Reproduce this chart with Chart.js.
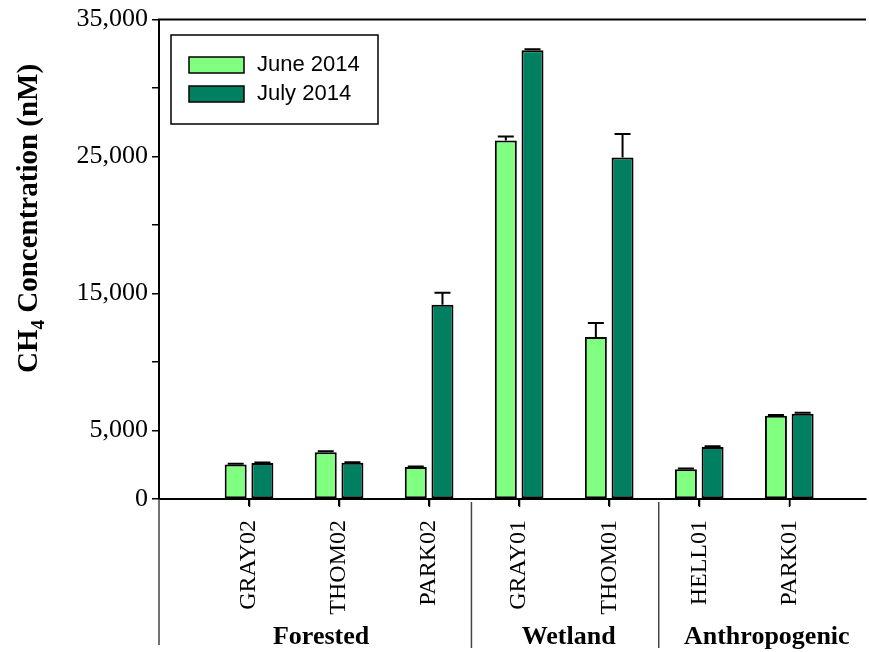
<!DOCTYPE html>
<html>
<head>
<meta charset="utf-8">
<script src="https://cdn.jsdelivr.net/npm/chart.js@4.4.1/dist/chart.umd.min.js"></script>
<style>
  html, body { margin: 0; padding: 0; background: #ffffff; }
  #wrap { width: 869px; height: 652px; }
</style>
</head>
<body>
<div id="wrap"><canvas id="c" width="869" height="652"></canvas></div>
<script>
// Sampling sites, in plotting order
const categories = ['GRAY02', 'THOM02', 'PARK02', 'GRAY01', 'THOM01', 'HELL01', 'PARK01'];

// CH4 concentration (nM)
const june2014 = [2520, 3420, 2330, 26170, 11830, 2180, 6080];
const july2014 = [2620, 2640, 14180, 32760, 24930, 3800, 6230];

// Standard errors (nM)
const june2014Err = [50, 60, 50, 290, 1020, 50, 60];
const july2014Err = [50, 50, 870, 70, 1720, 60, 70];

// Site groups
const groupNames = ['Forested', 'Wetland', 'Anthropogenic'];
const groupDividers = [3.47, 5.55];      // x-axis positions of the dividers
const groupLabelAt = [1.8, 4.55, 6.75];  // x-axis positions of the group names

// Labelled y ticks
const yTickLabels = [0, 5000, 15000, 25000, 35000];

const JUNE_COLOR = '#80ff80';
const JULY_COLOR = '#008060';

const toPoints = arr => arr.map((v, i) => ({ x: i + 1, y: v }));

const errorBars = {
  id: 'errorBars',
  afterDatasetsDraw(chart) {
    const ctx = chart.ctx;
    const y = chart.scales.y;
    ctx.save();
    ctx.strokeStyle = '#000';
    ctx.lineWidth = 2;
    chart.data.datasets.forEach((ds, di) => {
      const meta = chart.getDatasetMeta(di);
      meta.data.forEach((bar, i) => {
        const top = y.getPixelForValue(ds.data[i].y + ds.errors[i]);
        ctx.beginPath();
        ctx.moveTo(bar.x, bar.y);
        ctx.lineTo(bar.x, top);
        ctx.moveTo(bar.x - 8, top);
        ctx.lineTo(bar.x + 8, top);
        ctx.stroke();
      });
    });
    ctx.restore();
  }
};

const decorations = {
  id: 'decorations',
  afterDraw(chart) {
    const ctx = chart.ctx;
    const area = chart.chartArea;
    const x = chart.scales.x;
    ctx.save();

    // frame line along the top
    ctx.strokeStyle = '#000';
    ctx.lineWidth = 2;
    ctx.beginPath();
    ctx.moveTo(area.left - 1, area.top);
    ctx.lineTo(area.right, area.top);
    ctx.stroke();

    // tick marks under each site
    ctx.lineWidth = 1.5;
    ctx.beginPath();
    categories.forEach((_, i) => {
      const px = Math.round(x.getPixelForValue(i + 1)) + 0.5;
      ctx.moveTo(px, area.bottom);
      ctx.lineTo(px, area.bottom + 8);
    });
    ctx.stroke();

    // group brackets below the axis
    ctx.strokeStyle = '#444';
    ctx.lineWidth = 1.5;
    ctx.beginPath();
    ctx.moveTo(area.left, area.bottom);
    ctx.lineTo(area.left, 645);
    groupDividers.forEach(v => {
      const px = x.getPixelForValue(v);
      ctx.moveTo(px, area.bottom + 3);
      ctx.lineTo(px, 648);
    });
    ctx.stroke();

    // group names
    ctx.fillStyle = '#000';
    ctx.font = 'bold 26px "Liberation Serif"';
    ctx.textAlign = 'center';
    ctx.textBaseline = 'alphabetic';
    groupNames.forEach((name, i) => {
      ctx.fillText(name, x.getPixelForValue(groupLabelAt[i]), 644);
    });

    // legend
    const lx = 171, ly = 35, lw = 207, lh = 89;
    ctx.fillStyle = '#fff';
    ctx.fillRect(lx, ly, lw, lh);
    ctx.strokeStyle = '#000';
    ctx.lineWidth = 1.5;
    ctx.strokeRect(lx, ly, lw, lh);
    ctx.font = '22px "Liberation Sans"';
    ctx.textAlign = 'left';
    ctx.textBaseline = 'middle';
    chart.data.datasets.forEach((ds, i) => {
      const sy = 57 + i * 29;
      ctx.fillStyle = ds.backgroundColor;
      ctx.fillRect(189, sy, 55, 16);
      ctx.strokeRect(189, sy, 55, 16);
      ctx.fillStyle = '#000';
      ctx.fillText(ds.label, 257, sy + 8);
    });

    // y-axis title with subscript
    ctx.translate(37, 373);
    ctx.rotate(-Math.PI / 2);
    ctx.textAlign = 'left';
    ctx.textBaseline = 'alphabetic';
    ctx.fillStyle = '#000';
    ctx.font = 'bold 29px "Liberation Serif"';
    ctx.fillText('CH', 0, 0);
    let w = ctx.measureText('CH').width;
    ctx.font = 'bold 19px "Liberation Serif"';
    ctx.fillText('4', w, 7);
    w += ctx.measureText('4').width;
    ctx.font = 'bold 29px "Liberation Serif"';
    ctx.fillText(' Concentration (nM)', w, 0);

    ctx.restore();
  }
};

new Chart(document.getElementById('c'), {
  type: 'bar',
  data: {
    datasets: [
      {
        label: 'June 2014',
        data: toPoints(june2014),
        errors: june2014Err,
        backgroundColor: JUNE_COLOR,
        borderColor: '#000',
        borderWidth: 2,
        borderSkipped: false
      },
      {
        label: 'July 2014',
        data: toPoints(july2014),
        errors: july2014Err,
        backgroundColor: JULY_COLOR,
        borderColor: '#000',
        borderWidth: 2,
        borderSkipped: false
      }
    ]
  },
  options: {
    responsive: false,
    animation: false,
    categoryPercentage: 0.593,
    barPercentage: 0.824,
    layout: { padding: { top: 17, right: 3, left: 0, bottom: 0 } },
    plugins: {
      legend: { display: false },
      tooltip: { enabled: false }
    },
    scales: {
      x: {
        type: 'linear',
        offset: false,
        min: 0,
        max: 7.852,
        afterBuildTicks: s => { s.ticks = categories.map((_, i) => ({ value: i + 1 })); },
        afterFit: s => { s.height = 153; },
        ticks: {
          autoSkip: false,
          minRotation: 90,
          maxRotation: 90,
          padding: 14,
          color: '#000',
          font: { family: 'Liberation Serif', size: 24 },
          callback: v => categories[Math.round(v) - 1] || ''
        },
        grid: {
          display: true,
          offset: false,
          drawOnChartArea: false,
          drawTicks: true,
          tickLength: 7,
          color: '#000',
          lineWidth: 1.5
        },
        border: { display: true, color: '#000', width: 2 }
      },
      y: {
        min: 0,
        max: 35000,
        afterFit: s => { s.width = 159; },
        ticks: {
          stepSize: 5000,
          padding: 4,
          color: '#000',
          font: { family: 'Liberation Serif', size: 26 },
          callback: v => yTickLabels.includes(v) ? v.toLocaleString('en-US') : ''
        },
        grid: {
          display: true,
          drawOnChartArea: false,
          drawTicks: true,
          tickLength: 7,
          color: '#000',
          lineWidth: 1.5
        },
        border: { display: true, color: '#000', width: 2 }
      }
    }
  },
  plugins: [errorBars, decorations]
});
</script>
</body>
</html>
